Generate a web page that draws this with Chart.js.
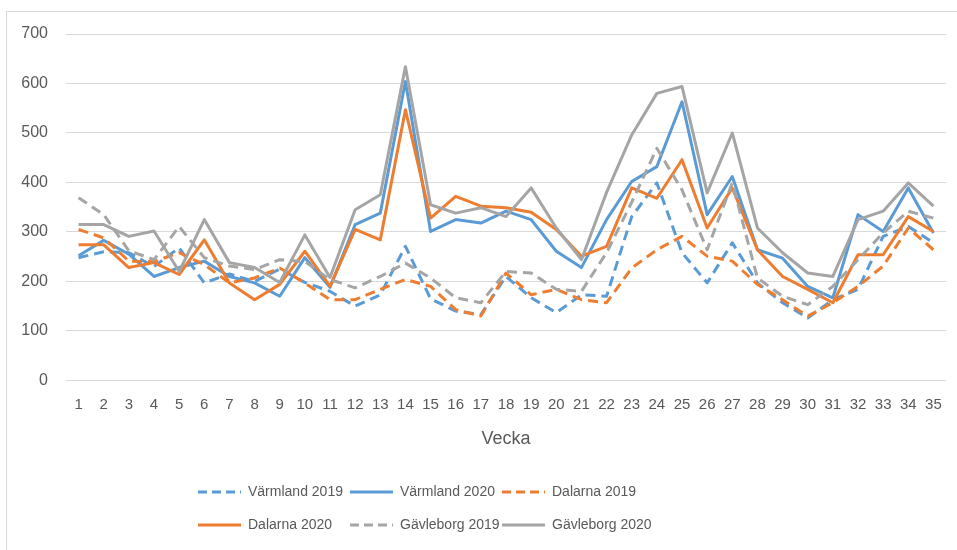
<!DOCTYPE html>
<html>
<head>
<meta charset="utf-8">
<script src="https://cdn.jsdelivr.net/npm/chart.js@4/dist/chart.umd.min.js"></script>
<style>
  html, body { margin: 0; padding: 0; background: #fff; overflow: hidden; }
  #wrap { position: relative; width: 957px; height: 550px; }
  #frame { position: absolute; left: 6px; top: 11px; width: 960px; height: 560px;
           border-left: 1px solid #d9d9d9; border-top: 1px solid #d9d9d9; pointer-events: none; }
  canvas { position: absolute; left: 0; top: 0; }
</style>
</head>
<body>
<div id="wrap">
  <canvas id="chart" width="957" height="550"></canvas>
  <div id="frame"></div>
</div>
<script>
const weeks = Array.from({ length: 35 }, (_, i) => String(i + 1));
const yTicks = [0, 100, 200, 300, 400, 500, 600, 700];

const varmland2019 = [248, 260, 258, 230, 268, 197, 215, 200, 225, 198, 180, 150, 173, 271, 165, 140, 133, 210, 167, 137, 173, 170, 331, 399, 258, 197, 278, 197, 157, 126, 163, 184, 291, 311, 278];
const varmland2020 = [252, 283, 255, 210, 228, 241, 210, 197, 170, 248, 188, 315, 338, 604, 301, 325, 318, 342, 325, 261, 228, 325, 402, 432, 563, 335, 412, 264, 247, 190, 167, 335, 301, 389, 298];
const dalarna2019 = [305, 288, 241, 240, 258, 234, 197, 207, 227, 197, 163, 163, 184, 204, 190, 143, 130, 217, 173, 184, 163, 157, 227, 264, 291, 251, 241, 194, 163, 130, 157, 190, 231, 308, 264];
const dalarna2020 = [274, 274, 228, 238, 214, 284, 197, 163, 194, 261, 190, 305, 284, 547, 328, 372, 352, 349, 340, 305, 251, 271, 389, 368, 446, 308, 389, 264, 210, 184, 157, 254, 254, 331, 301];
const gavleborg2019 = [369, 335, 262, 244, 311, 248, 231, 224, 244, 240, 204, 187, 210, 237, 207, 167, 157, 220, 217, 184, 180, 258, 360, 469, 385, 264, 399, 207, 170, 153, 190, 244, 298, 342, 328];
const gavleborg2020 = [315, 315, 291, 302, 220, 325, 238, 228, 198, 294, 208, 345, 375, 634, 355, 338, 349, 331, 389, 308, 244, 380, 496, 580, 594, 379, 500, 308, 258, 217, 210, 325, 342, 399, 352];

const BLUE = '#5b9bd5';
const ORANGE = '#ed7d31';
const GRAY = '#a5a5a5';
const TEXT = '#595959';
const FONT = "'Liberation Sans', Arial, sans-serif";
const DASH = [10, 6];

const series = [
  { label: 'Värmland 2019', data: varmland2019, color: BLUE, dash: DASH },
  { label: 'Värmland 2020', data: varmland2020, color: BLUE, dash: [] },
  { label: 'Dalarna 2019', data: dalarna2019, color: ORANGE, dash: DASH },
  { label: 'Dalarna 2020', data: dalarna2020, color: ORANGE, dash: [] },
  { label: 'Gävleborg 2019', data: gavleborg2019, color: GRAY, dash: DASH },
  { label: 'Gävleborg 2020', data: gavleborg2020, color: GRAY, dash: [] },
];

// excel-like legend: 3 columns, 2 rows, under the axis title
const gridLegend = {
  id: 'gridLegend',
  afterDraw(chart) {
    const ctx = chart.ctx;
    const cols = [198, 350, 502];
    const rows = [492, 525];
    ctx.save();
    ctx.font = `14px ${FONT}`;
    ctx.textBaseline = 'middle';
    ctx.fillStyle = TEXT;
    chart.data.datasets.forEach((ds, i) => {
      const x = cols[i % 3];
      const y = rows[Math.floor(i / 3)];
      ctx.strokeStyle = ds.borderColor;
      ctx.lineWidth = 3;
      ctx.setLineDash(ds.borderDash.length ? [9, 5] : []);
      ctx.beginPath();
      ctx.moveTo(x, y);
      ctx.lineTo(x + 43, y);
      ctx.stroke();
      ctx.fillText(ds.label, x + 50, y);
    });
    ctx.restore();
  }
};

new Chart(document.getElementById('chart'), {
  type: 'line',
  data: {
    labels: weeks,
    datasets: series.map((s, i) => ({
      label: s.label,
      data: s.data,
      borderColor: s.color,
      backgroundColor: s.color,
      borderDash: s.dash,
      borderWidth: 3,
      borderJoinStyle: 'round',
      pointRadius: 0,
      tension: 0,
      fill: false,
      order: series.length - i,
    }))
  },
  options: {
    responsive: false,
    animation: false,
    layout: { padding: { top: 34, right: 11, bottom: 100, left: 0 } },
    plugins: {
      legend: { display: false },
      tooltip: { enabled: false },
    },
    scales: {
      x: {
        offset: true,
        grid: { display: false, drawTicks: false },
        border: { display: false },
        ticks: {
          color: TEXT, font: { family: FONT, size: 15 },
          padding: 15, autoSkip: false, maxRotation: 0,
        },
        title: {
          display: true, text: 'Vecka', color: TEXT,
          font: { family: FONT, size: 18 },
          padding: { top: 0, bottom: 0 },
        },
      },
      y: {
        min: 0, max: 700,
        afterBuildTicks: (scale) => { scale.ticks = yTicks.map(v => ({ value: v })); },
        afterFit: (scale) => { scale.width = 66; },
        grid: { color: '#d9d9d9', lineWidth: 1, drawTicks: false },
        border: { display: false },
        ticks: { color: TEXT, font: { family: FONT, size: 16 }, padding: 18 },
      },
    },
  },
  plugins: [gridLegend],
});
</script>
</body>
</html>
